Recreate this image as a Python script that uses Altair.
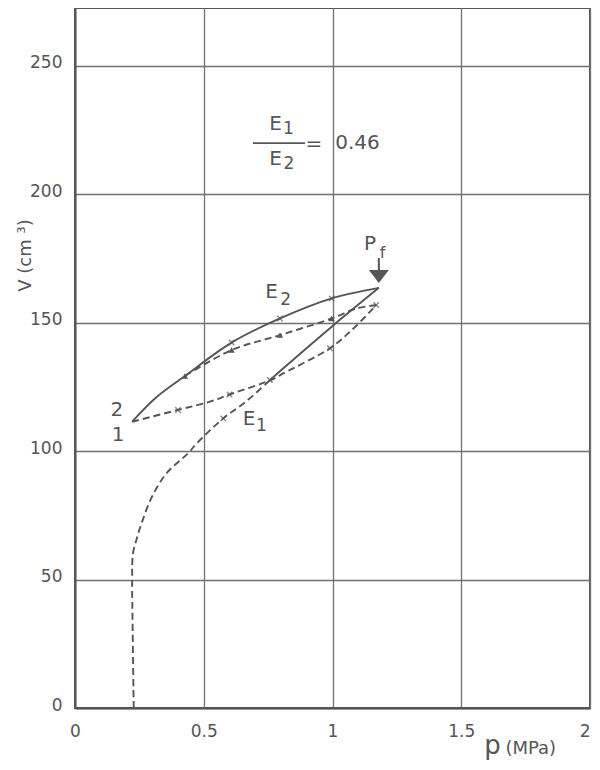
import altair as alt
import pandas as pd

GRAY = "#555555"

# ---- data ----
# initial loading (dashed, leading into E1 line)
init_p = [0.228, 0.224, 0.222, 0.225, 0.240, 0.259, 0.298, 0.356, 0.440, 0.473, 0.576, 0.667, 0.757]
init_V = [0, 30, 50, 60, 66, 72, 82, 91.4, 99.2, 103, 112.7, 119.5, 127.6]
# E1 loading (solid) to Pf
e1_p = [0.757, 0.809, 0.997, 1.18]
e1_V = [127.6, 132.2, 148.4, 163.5]
# unloading from Pf to point 2 (solid, E2)
unl_p = [1.18, 0.997, 0.796, 0.608, 0.427, 0.317, 0.222]
unl_V = [163.5, 159.4, 151.6, 142.2, 129.2, 121.0, 111.4]
# reloading from point 1 (dashed)
rel_p = [0.222, 0.40, 0.524, 0.60, 0.77, 0.809, 0.99, 1.074, 1.17]
rel_V = [111.4, 116.0, 119.2, 122.0, 128.0, 130.2, 140.0, 147.0, 156.8]
# second unloading (dashed, triangles)
unl2_p = [1.17, 1.094, 0.997, 0.796, 0.608, 0.427]
unl2_V = [156.8, 155.5, 151.6, 145.1, 139.3, 129.2]

cross_p = [0.608, 0.796, 0.997, 0.40, 0.60, 0.99, 1.17, 0.576, 0.757]
cross_V = [142.2, 151.6, 159.4, 116.0, 122.0, 140.0, 156.8, 112.7, 127.6]
tri_p = [0.427, 0.608, 0.796, 0.997]
tri_V = [129.2, 139.3, 145.1, 151.6]

x_ticks = [0, 0.5, 1, 1.5, 2]
y_ticks = [0, 50, 100, 150, 200, 250]

# annotations: text, p, V, font size
ann_text = ["E", "1", "E", "2", "=", "0.46", "P", "f", "E", "2", "E", "1", "2", "1", "(MPa)"]
ann_p = [0.7786, 0.829, 0.7786, 0.831, 0.928, 1.097, 1.146, 1.194, 0.763, 0.818, 0.676, 0.724, 0.163, 0.167, 1.77]
ann_V = [227.4, 225.3, 213.8, 211.5, 219.5, 219.8, 180.5, 177.2, 161.7, 158.8, 112.6, 109.9, 116.0, 106.2, -16.0]
ann_fs = [20, 17, 20, 17, 20, 20, 20, 16, 20, 17, 20, 17, 20, 20, 18]

# ---- tables ----
rows = []
def add(name, style, ps, vs):
    for i, (p, v) in enumerate(zip(ps, vs)):
        rows.append({"p": p, "V": v, "series": name, "style": style, "ord": i})

add("init", "dash", init_p, init_V)
add("e1", "solid", e1_p, e1_V)
add("unl", "solid", unl_p, unl_V)
add("rel", "dash", rel_p, rel_V)
add("unl2", "dash", unl2_p, unl2_V)
lines = pd.DataFrame(rows)

crosses = pd.DataFrame({"p": cross_p, "V": cross_V})
tris = pd.DataFrame({"p": tri_p, "V": tri_V})
ann = pd.DataFrame({"t": ann_text, "p": ann_p, "V": ann_V, "fs": ann_fs})
frac = pd.DataFrame({"p": [0.691], "p2": [0.893], "V": [219.8]})
arrow = pd.DataFrame({"p": [1.18], "V": [175.1], "V2": [169.6]})
arrow_head = pd.DataFrame({"p": [1.18], "V": [167.9]})

xs = alt.Scale(domain=[0, 2], nice=False)
ys = alt.Scale(domain=[0, 272.4], nice=False)

X = alt.X("p:Q", scale=xs, axis=alt.Axis(
    values=x_ticks, format="~g", labelPadding=15, labelFlush=False,
    labelAlign={"condition": {"test": "datum.value == 2", "value": "right"}, "value": "center"},
    title="p", titleFontSize=26, titleX=417, titleY=45,
    titleBaseline="alphabetic", titleAlign="center"))
Y = alt.Y("V:Q", scale=ys, axis=alt.Axis(
    values=y_ticks, labelPadding=13, labelOffset=-3,
    title="V  (cm ³)", titleFontSize=18, titleX=-50, titleY=247,
    titleAngle=270, titleAlign="center", titleBaseline="middle"))

base = alt.Chart(lines)

solid = base.transform_filter(alt.datum.style == "solid").mark_line(
    color=GRAY, strokeWidth=1.9, interpolate="catmull-rom").encode(
    x=X, y=Y, detail="series:N", order="ord:Q")
dashed = base.transform_filter(alt.datum.style == "dash").mark_line(
    color=GRAY, strokeWidth=1.9, strokeDash=[7, 4], interpolate="catmull-rom").encode(
    x="p:Q", y="V:Q", detail="series:N", order="ord:Q")

cross_mark = alt.Chart(crosses).mark_point(
    shape="M-1,-1L1,1M-1,1L1,-1", filled=False, color=GRAY, strokeWidth=1.4, size=30
).encode(x="p:Q", y="V:Q")
tri_mark = alt.Chart(tris).mark_point(
    shape="triangle-up", filled=True, color=GRAY, size=40, opacity=1
).encode(x="p:Q", y="V:Q")

frac_rule = alt.Chart(frac).mark_rule(color=GRAY, strokeWidth=1.6).encode(
    x="p:Q", x2="p2:Q", y="V:Q")
arrow_rule = alt.Chart(arrow).mark_rule(color=GRAY, strokeWidth=2).encode(
    x="p:Q", y="V:Q", y2="V2:Q")
arrow_tip = alt.Chart(arrow_head).mark_point(
    shape="M-1,-0.65L1,-0.65L0,0.65Z", filled=True, color=GRAY, size=400, opacity=1
).encode(x="p:Q", y="V:Q")

texts = alt.Chart(ann).mark_text(
    color=GRAY, font="DejaVu Sans", align="center", baseline="middle"
).encode(x="p:Q", y="V:Q", text="t:N", size=alt.Size("fs:Q", scale=None, legend=None))

chart = alt.layer(
    solid, dashed, cross_mark, tri_mark, frac_rule, arrow_rule, arrow_tip, texts
).properties(
    width=515, height=700,
    autosize=alt.AutoSizeParams(type="none"),
    padding={"left": 67, "top": 0, "right": 2, "bottom": 54},
    background="white",
).configure_view(
    stroke=GRAY, strokeWidth=2
).configure_axis(
    grid=True, gridColor="#707070", gridWidth=1.3,
    domainColor=GRAY, domainWidth=2, ticks=False,
    labelColor=GRAY, labelFont="DejaVu Sans", labelFontSize=17,
    titleColor=GRAY, titleFont="DejaVu Sans", titleFontWeight="normal",
)

chart.save("out.html", embed_options={"renderer": "svg", "actions": False})
